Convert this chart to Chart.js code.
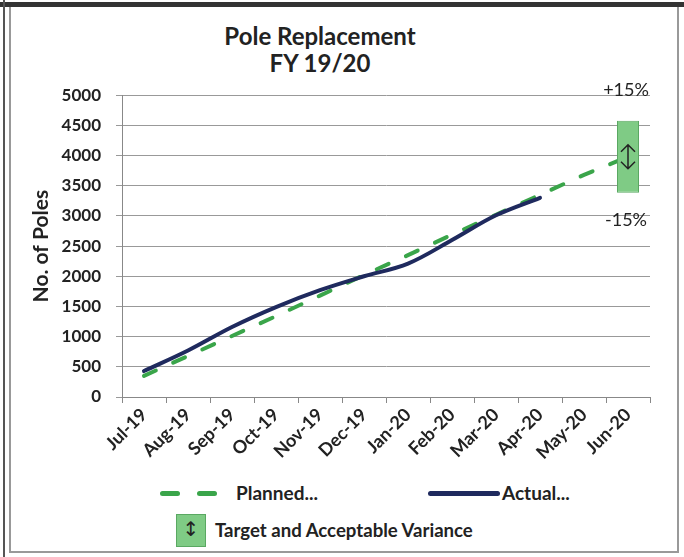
<!DOCTYPE html>
<html>
<head>
<meta charset="utf-8">
<script src="https://cdn.jsdelivr.net/npm/chart.js@4.4.1/dist/chart.umd.min.js"></script>
<style>
  body { margin: 0; width: 684px; height: 557px; background: #fff; overflow: hidden; font-family: Lato, "Open Sans", sans-serif; color: #222; }
  #topbar { position: absolute; left: 0; top: 2px; width: 684px; height: 5px; background: #333; }
  #leftline { position: absolute; left: 3px; top: 0; width: 2px; height: 557px; background: #555; }
  #frame { position: absolute; left: 9px; top: 7px; width: 666px; height: 544px; border: 2px solid #999; border-top: none; }
  #title { position: absolute; left: 120px; top: 22px; width: 400px; text-align: center; font-weight: bold; font-size: 24px; line-height: 27px; }
  #wrap { position: absolute; left: 10px; top: 70px; width: 658px; height: 395px; }
  .leg { position: absolute; font-weight: bold; font-size: 19px; line-height: 22px; white-space: nowrap; }
  .dash { position: absolute; height: 5px; border-radius: 3px; background: #3aa54a; }
</style>
</head>
<body>
<div id="topbar"></div>
<div id="leftline"></div>
<div id="frame"></div>
<div id="title">Pole Replacement<br>FY 19/20</div>
<div id="wrap"><canvas id="displayGraph"></canvas></div>

<!-- légende faite à la main pour coller à la mise en page Excel -->
<div class="dash" style="left:160px; top:491px; width:20px;"></div>
<div class="dash" style="left:197px; top:491px; width:20px;"></div>
<div class="leg" style="left:236px; top:482px;">Planned...</div>
<div class="dash" style="left:428px; top:491px; width:72px; background:#1f2a5e;"></div>
<div class="leg" style="left:502px; top:482px;">Actual...</div>
<div style="position:absolute; left:176px; top:514px; width:28px; height:31px; background:#7fcb85; border:1px solid #5aa862;"></div>
<div class="leg" style="left:176px; top:518px; width:30px; text-align:center; font-family:'DejaVu Sans'; font-weight:normal; font-size:20px;">↕</div>
<div class="leg" style="left:215px; top:519px; font-size:18.6px;">Target and Acceptable Variance</div>

<script>
// données
const months = ["Jul-19", "Aug-19", "Sep-19", "Oct-19", "Nov-19", "Dec-19", "Jan-20", "Feb-20", "Mar-20", "Apr-20", "May-20", "Jun-20"]
const planned = [350, 680, 1010, 1340, 1680, 2020, 2350, 2690, 3020, 3350, 3680, 3980]
const actual = [430, 770, 1160, 1490, 1770, 2000, 2210, 2600, 3010, 3300, null, null]
const target = 3980 // objectif de fin d'année
const variance = 0.15 // +/- 15%
const yTicks = [0, 500, 1000, 1500, 2000, 2500, 3000, 3500, 4000, 4500, 5000]

// barre flottante seulement sur le dernier mois
const targetBar = months.map((m, i) => i === months.length - 1 ? [target * (1 - variance), target * (1 + variance)] : null)

// plugin qui dessine la flèche et écrit les +15% / -15% autour de la barre
const varianceLabels = {
  id: 'varianceLabels',
  afterDatasetsDraw(chart) {
    const meta = chart.getDatasetMeta(0)
    const bar = meta.data[months.length - 1]
    if (!bar) return
    const ctx = chart.ctx
    const top = Math.min(bar.y, bar.base)
    const bottom = Math.max(bar.y, bar.base)
    const mid = (top + bottom) / 2
    ctx.save()
    // flèche double fine
    ctx.strokeStyle = '#222'
    ctx.lineWidth = 1.5
    ctx.beginPath()
    ctx.moveTo(bar.x, mid - 12)
    ctx.lineTo(bar.x, mid + 12)
    ctx.moveTo(bar.x - 7, mid - 5)
    ctx.lineTo(bar.x, mid - 12)
    ctx.lineTo(bar.x + 7, mid - 5)
    ctx.moveTo(bar.x - 7, mid + 5)
    ctx.lineTo(bar.x, mid + 12)
    ctx.lineTo(bar.x + 7, mid + 5)
    ctx.stroke()

    ctx.fillStyle = '#222'
    ctx.textAlign = 'center'
    ctx.textBaseline = 'middle'
    ctx.font = '18px Lato'
    ctx.fillText('+15%', bar.x - 2, top - 31)
    ctx.fillText('-15%', bar.x - 2, bottom + 27)
    ctx.restore()
  }
}

const config = {
  type: 'bar',
  data: {
    labels: months,
    datasets: [
      {
        type: 'bar',
        label: 'Target and Acceptable Variance',
        data: targetBar,
        backgroundColor: '#7fcb85',
        borderColor: '#5aa862',
        borderWidth: 1,
        borderSkipped: false,
        barPercentage: 0.5,
        categoryPercentage: 1,
        order: 0
      },
      {
        type: 'line',
        label: 'Actual...',
        data: actual,
        borderColor: '#1f2a5e',
        borderWidth: 4,
        tension: 0.35,
        pointRadius: 0,
        borderCapStyle: 'round',
        order: 1
      },
      {
        type: 'line',
        label: 'Planned...',
        data: planned,
        borderColor: '#3aa54a',
        borderWidth: 4,
        borderDash: [13, 19],
        borderCapStyle: 'round',
        tension: 0,
        pointRadius: 0,
        order: 2
      }
    ]
  },
  options: {
    responsive: true,
    maintainAspectRatio: false,
    animation: false,
    layout: { padding: { top: 21, right: 18, left: 0, bottom: 0 } },
    plugins: {
      legend: { display: false },
      title: { display: false },
      tooltip: { enabled: false }
    },
    scales: {
      x: {
        offset: true,
        grid: { offset: true, drawOnChartArea: false, drawTicks: true, tickLength: 6, color: '#888' },
        border: { color: '#888' },
        ticks: { minRotation: 45, maxRotation: 45, color: '#222', padding: 1, font: { family: 'Lato', size: 18, weight: 'bold' } },
        afterFit(scale) { scale.height = 68 }
      },
      y: {
        min: 0,
        max: 5000,
        afterBuildTicks(scale) { scale.ticks = yTicks.map(v => ({ value: v })) },
        grid: { color: '#999', tickLength: 6 },
        border: { color: '#888' },
        ticks: { color: '#222', padding: 15, font: { family: 'Lato', size: 17, weight: 'bold' }, callback: v => String(v) },
        title: { display: true, text: 'No. of Poles', color: '#222', padding: { top: 19, bottom: 0 }, font: { family: 'Lato', size: 21, weight: 'bold' } },
        afterFit(scale) { scale.width = 112 }
      }
    }
  },
  plugins: [varianceLabels]
}

const DISPLAYGRAPH = document.getElementById('displayGraph')
const chart = new Chart(DISPLAYGRAPH, config)
</script>
</body>
</html>
